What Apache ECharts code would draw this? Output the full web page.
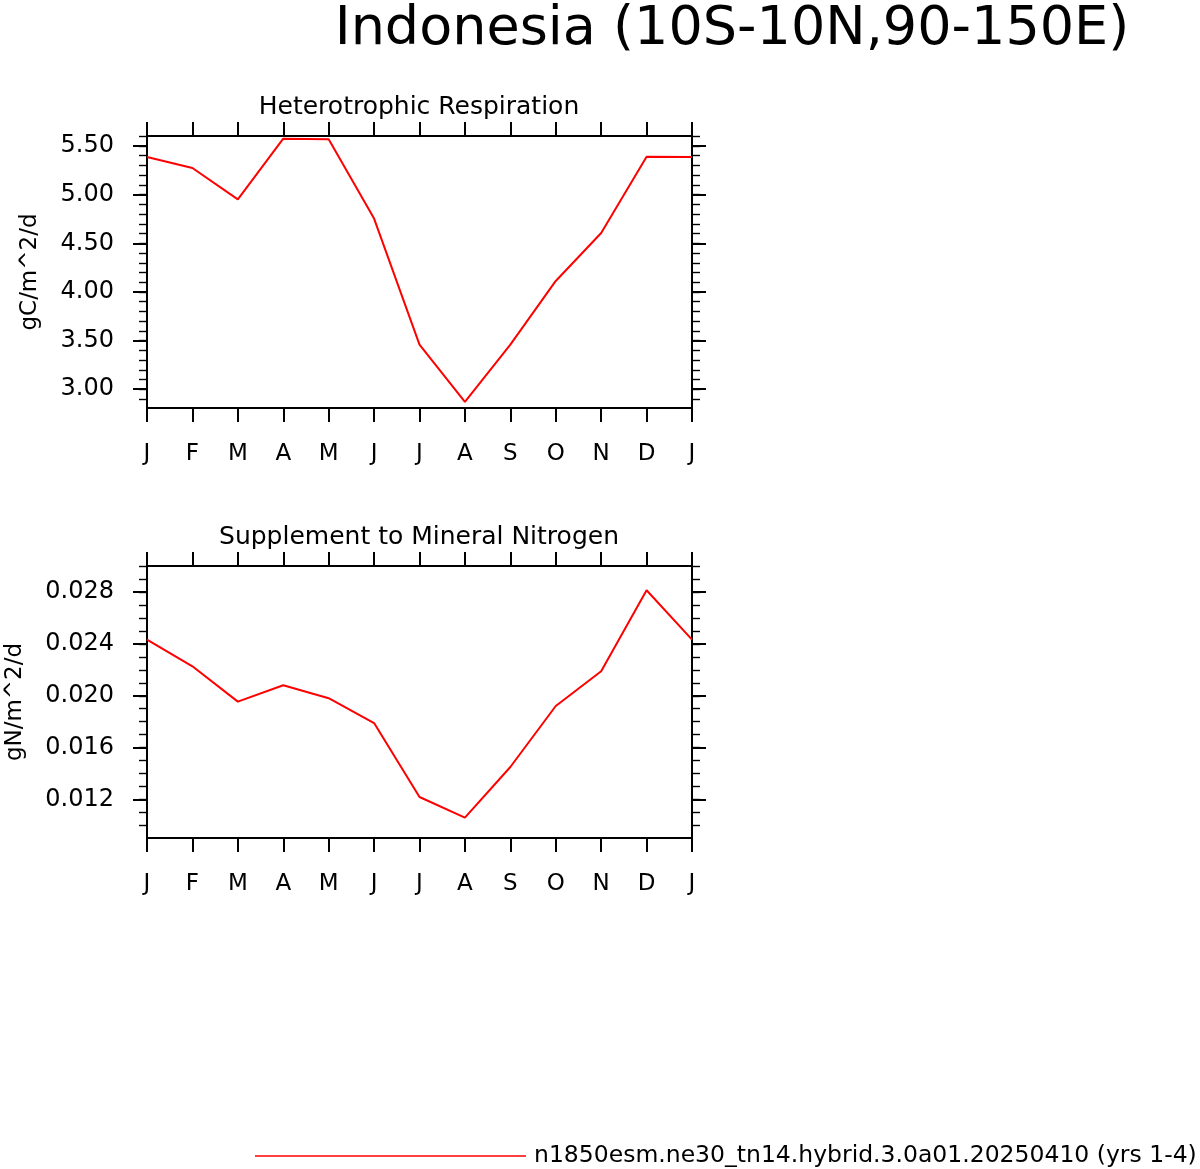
<!DOCTYPE html>
<html><head><meta charset="utf-8">
<script src="https://cdn.jsdelivr.net/npm/echarts@6/dist/echarts.min.js"></script>
<style>html,body{margin:0;padding:0;background:#fff}#c{width:1200px;height:1169px}</style>
</head><body><div id="c"></div>
<script>
const mainTitle = 'Indonesia (10S-10N,90-150E)';
const panelTitles = ['Heterotrophic Respiration', 'Supplement to Mineral Nitrogen'];
const yNames = ['gC/m^2/d', 'gN/m^2/d'];
const caseName = 'n1850esm.ne30_tn14.hybrid.3.0a01.20250410 (yrs 1-4)';
const months = ['J','F','M','A','M','J','J','A','S','O','N','D','J'];
const respValues = [5.387, 5.274, 4.952, 5.576, 5.569, 4.754, 3.459, 2.870, 3.459, 4.113, 4.606, 5.390, 5.387];
const nitroValues = [0.02433, 0.02227, 0.01955, 0.02081, 0.01981, 0.01790, 0.01220, 0.01061, 0.01451, 0.01921, 0.02189, 0.02813, 0.02433];
const respTicks = [3.00, 3.50, 4.00, 4.50, 5.00, 5.50];
const nitroTicks = [0.012, 0.016, 0.020, 0.024, 0.028];
const respRange = [2.807, 5.603];
const nitroRange = [0.00904, 0.0300];

const FONT = 'DejaVu Sans';
function minorList(lo, hi, step) {
  const out = [];
  const start = Math.ceil(lo / step - 1e-9);
  const end = Math.floor(hi / step + 1e-9);
  for (let k = start; k <= end; k++) out.push(+(k * step).toFixed(6));
  return out;
}
const respMinor = minorList(respRange[0], respRange[1], 0.1);
const nitroMinor = minorList(nitroRange[0], nitroRange[1], 0.001);

const grids = [
  {left: 147, top: 136, width: 545, height: 272},
  {left: 147, top: 566, width: 545, height: 272}
];
const lineStyle = {color: '#000', width: 2};
const minorStyle = {color: '#000', width: 1.4};

const xAxes = [], yAxes = [];
grids.forEach((g, gi) => {
  xAxes.push({
    gridIndex: gi, type: 'value', min: 0, max: 12, interval: 1, position: 'bottom',
    axisLine: {show: true, lineStyle},
    axisTick: {show: true, length: 14, lineStyle},
    axisLabel: {show: true, margin: 35, fontFamily: FONT, fontSize: 23, lineHeight: 23, color: '#000',
      formatter: v => months[Math.round(v)] || ''},
    splitLine: {show: false}
  });
  xAxes.push({
    gridIndex: gi, type: 'value', min: 0, max: 12, interval: 1, position: 'top',
    axisLine: {show: true, lineStyle},
    axisTick: {show: true, length: 14, lineStyle},
    axisLabel: {show: false}, splitLine: {show: false}
  });
  const range = gi === 0 ? respRange : nitroRange;
  const ticks = gi === 0 ? respTicks : nitroTicks;
  const minor = gi === 0 ? respMinor : nitroMinor;
  const digits = gi === 0 ? 2 : 3;
  ['left', 'right'].forEach(pos => {
    yAxes.push({
      gridIndex: gi, type: 'value', min: range[0], max: range[1], position: pos,
      axisLine: {show: true, lineStyle},
      axisTick: {show: true, length: 8, lineStyle: minorStyle, customValues: minor},
      axisLabel: {show: false}, splitLine: {show: false}
    });
    yAxes.push({
      gridIndex: gi, type: 'value', min: range[0], max: range[1], position: pos,
      name: pos === 'left' ? yNames[gi] : '',
      nameLocation: 'middle', nameRotate: 90, nameGap: gi === 0 ? 105 : 120,
      nameTextStyle: {fontFamily: FONT, fontSize: 23, lineHeight: 23, color: '#000'},
      axisLine: {show: true, lineStyle},
      axisTick: {show: true, length: 14, lineStyle, customValues: ticks},
      axisLabel: {show: pos === 'left', margin: 33, fontFamily: FONT, fontSize: 24, lineHeight: 24, color: '#000',
        customValues: ticks, formatter: v => v.toFixed(digits)},
      splitLine: {show: false}
    });
  });
});

const option = {
  backgroundColor: '#fff',
  animation: false,
  title: [
    {text: mainTitle, left: 732, top: 3, textAlign: 'center', padding: 0,
      textStyle: {fontFamily: FONT, fontSize: 54, lineHeight: 54, fontWeight: 'normal', color: '#000'}},
    {text: panelTitles[0], left: 419, top: 95, textAlign: 'center', padding: 0,
      textStyle: {fontFamily: FONT, fontSize: 25, lineHeight: 25, fontWeight: 'normal', color: '#000'}},
    {text: panelTitles[1], left: 419, top: 525, textAlign: 'center', padding: 0,
      textStyle: {fontFamily: FONT, fontSize: 25, lineHeight: 25, fontWeight: 'normal', color: '#000'}}
  ],
  legend: {
    data: [caseName], left: 255, top: 1144, padding: 0,
    icon: 'rect', itemWidth: 271, itemHeight: 1.5,
    itemStyle: {color: '#ff0000'},
    textStyle: {fontFamily: FONT, fontSize: 23.5, lineHeight: 23, color: '#000', padding: [0, 0, 0, 3]}
  },
  grid: grids,
  xAxis: xAxes,
  yAxis: yAxes,
  series: [
    {name: caseName, type: 'line', xAxisIndex: 0, yAxisIndex: 1, symbol: 'none',
      lineStyle: {color: '#ff0000', width: 2}, itemStyle: {color: '#ff0000'},
      data: respValues.map((v, i) => [i, v])},
    {name: caseName, type: 'line', xAxisIndex: 2, yAxisIndex: 5, symbol: 'none',
      lineStyle: {color: '#ff0000', width: 2}, itemStyle: {color: '#ff0000'},
      data: nitroValues.map((v, i) => [i, v])}
  ]
};
const chart = echarts.init(document.getElementById('c'), null, {renderer: 'canvas'});
chart.setOption(option);
</script>
</body></html>
